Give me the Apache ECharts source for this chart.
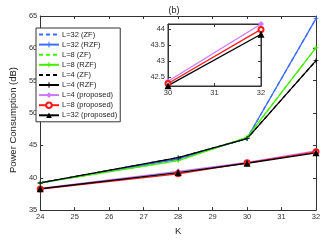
<!DOCTYPE html>
<html><head><meta charset="utf-8">
<script src="https://cdn.jsdelivr.net/npm/echarts@6/dist/echarts.min.js"></script>
<style>html,body{margin:0;padding:0;background:#fff}#c{width:332px;height:241px}</style>
</head><body><div id="c"></div>
<script>
const K = [24, 28, 30, 32];
const L32_ZF = [39.2, 42.9, 46.1, 64.6];
const L32_RZF = [39.2, 42.9, 46.1, 64.6];
const L8_ZF = [39.2, 42.65, 46.25, 60.1];
const L8_RZF = [39.2, 42.65, 46.25, 60.1];
const L4_ZF = [39.2, 43.1, 46.05, 58.1];
const L4_RZF = [39.2, 43.1, 46.05, 58.1];
const L4_prop = [38.35, 41.0, 42.38, 44.17];
const L8_prop = [38.25, 40.6, 42.31, 44.0];
const L32_prop = [38.3, 40.8, 42.24, 43.85];
const xTicksMain = [24, 25, 26, 27, 28, 29, 30, 31, 32];
const yTicksMain = [35, 40, 45, 50, 55, 60, 65];
const insetK = [30, 32];
const yTicksInset = [42.5, 43, 43.5, 44];
const names = ['L=32 (ZF)','L=32 (RZF)','L=8 (ZF)','L=8 (RZF)','L=4 (ZF)','L=4 (RZF)','L=4 (proposed)','L=8 (proposed)','L=32 (proposed)'];

const BLUE = '#3d6cff', GREEN = '#44ee00', BLACK = '#000', PURPLE = '#cc77ff', RED = '#ff1a1a';
const PLUS = 'path://M-0.18,-1H0.18V-0.18H1V0.18H0.18V1H-0.18V0.18H-1V-0.18H-0.18Z';
const FONT = 'Liberation Sans';

function pairs(xs, ys) { return xs.map((x, i) => [x, ys[i]]); }
function insetPairs(ys) { return insetK.map(k => [k, ys[K.indexOf(k)]]); }

function mk(name, ys, color, opts) {
  return Object.assign({
    name, type: 'line', data: pairs(K, ys), xAxisIndex: 0, yAxisIndex: 0,
    color, lineStyle: { color, width: 1.3 }, symbol: 'none', symbolSize: 5,
    itemStyle: { color }, animation: false, silent: true
  }, opts || {});
}

const series = [
  mk(names[0], L32_ZF, BLUE, { lineStyle: { color: BLUE, width: 1.3, type: [4, 3] } }),
  mk(names[2], L8_ZF, GREEN, { lineStyle: { color: GREEN, width: 1.3, type: [4, 3] } }),
  mk(names[4], L4_ZF, BLACK, { lineStyle: { color: BLACK, width: 1.3, type: [4, 3] } }),
  mk(names[1], L32_RZF, BLUE, { symbol: PLUS, symbolSize: 5 }),
  mk(names[3], L8_RZF, GREEN, { symbol: PLUS, symbolSize: 5 }),
  mk(names[5], L4_RZF, BLACK, { symbol: PLUS, symbolSize: 5 }),
  mk(names[6], L4_prop, PURPLE, { symbol: 'diamond', symbolSize: 6 }),
  mk(names[7], L8_prop, RED, { symbol: 'emptyCircle', symbolSize: 5, itemStyle: { color: RED, borderColor: RED, borderWidth: 1.5 } }),
  mk(names[8], L32_prop, BLACK, { symbol: 'triangle', symbolSize: 7 }),
  mk(names[6], L4_prop, PURPLE, { data: insetPairs(L4_prop), xAxisIndex: 2, yAxisIndex: 2, symbol: 'diamond', symbolSize: 6 }),
  mk(names[7], L8_prop, RED, { data: insetPairs(L8_prop), xAxisIndex: 2, yAxisIndex: 2, symbol: 'emptyCircle', symbolSize: 5, itemStyle: { color: RED, borderColor: RED, borderWidth: 1.5 } }),
  mk(names[8], L32_prop, BLACK, { data: insetPairs(L32_prop), xAxisIndex: 2, yAxisIndex: 2, symbol: 'triangle', symbolSize: 7 })
];

const axLine = { show: true, lineStyle: { color: '#333', width: 1 } };
const tickIn = { show: true, inside: true, length: 3, lineStyle: { color: '#333' } };
const lab = { color: '#333', fontFamily: FONT, fontSize: 7.5, margin: 3 };

const legendData = names.map(n => n.indexOf('(ZF)') >= 0 ? { name: n, itemStyle: { opacity: 0 } } : { name: n });

const chart = echarts.init(document.getElementById('c'), null, { renderer: 'canvas' });
chart.setOption({
  animation: false,
  backgroundColor: '#fff',
  title: { text: '(b)', left: 169, top: 1, textAlign: 'center',
    textStyle: { fontFamily: FONT, fontSize: 9, fontWeight: 'normal', color: '#222' } },
  grid: [
    { left: 24, right: 16, top: 16, bottom: 23, show: false },
    { left: 168, width: 93, top: 24, height: 62, show: true, backgroundColor: '#fff', borderColor: '#333', borderWidth: 1, z: 5 }
  ],
  legend: {
    data: legendData, orient: 'vertical', left: 36, top: 28, width: 83,
    itemWidth: 20, itemHeight: 7, itemGap: 1.1,
    padding: [2, 3, 2, 2], borderColor: '#333', borderWidth: 1, backgroundColor: '#fff',
    textStyle: { fontFamily: FONT, fontSize: 7.5, lineHeight: 9, color: '#222', padding: [0, 0, 0, -2] },
    selectedMode: false
  },
  xAxis: [
    { type: 'value', gridIndex: 0, min: 24, max: 32, interval: 1, name: 'K', nameLocation: 'middle', nameGap: 13,
      nameTextStyle: { fontFamily: FONT, fontSize: 9.5, color: '#222' },
      axisLine: axLine, axisTick: tickIn, axisLabel: lab, splitLine: { show: false } },
    { type: 'value', gridIndex: 0, position: 'top', min: 24, max: 32, interval: 1,
      axisLine: axLine, axisTick: tickIn, axisLabel: { show: false }, splitLine: { show: false } },
    { type: 'value', gridIndex: 1, min: 30, max: 32, interval: 1, z: 6,
      axisLine: axLine, axisTick: tickIn, axisLabel: lab, splitLine: { show: false } },
    { type: 'value', gridIndex: 1, position: 'top', min: 30, max: 32, interval: 1, z: 6,
      axisLine: axLine, axisTick: tickIn, axisLabel: { show: false }, splitLine: { show: false } }
  ],
  yAxis: [
    { type: 'value', gridIndex: 0, min: 35, max: 65, interval: 5, name: 'Power Consumption (dB)', nameLocation: 'middle', nameGap: 12,
      nameTextStyle: { fontFamily: FONT, fontSize: 9.5, color: '#222', padding: [0, 14, 0, 0] },
      axisLine: axLine, axisTick: tickIn, axisLabel: lab, splitLine: { show: false } },
    { type: 'value', gridIndex: 0, position: 'right', min: 35, max: 65, interval: 5,
      axisLine: axLine, axisTick: tickIn, axisLabel: { show: false }, splitLine: { show: false } },
    { type: 'value', gridIndex: 1, min: 42.23, max: 44.17, z: 6,
      axisLine: axLine,
      axisTick: Object.assign({}, tickIn, { customValues: yTicksInset }),
      axisLabel: Object.assign({}, lab, { customValues: yTicksInset }), splitLine: { show: false } },
    { type: 'value', gridIndex: 1, position: 'right', min: 42.23, max: 44.17, z: 6,
      axisLine: axLine,
      axisTick: Object.assign({}, tickIn, { customValues: yTicksInset }),
      axisLabel: { show: false }, splitLine: { show: false } }
  ],
  series: series.map((s, i) => i >= 9 ? Object.assign(s, { z: 7 }) : s)
});
</script></body></html>
